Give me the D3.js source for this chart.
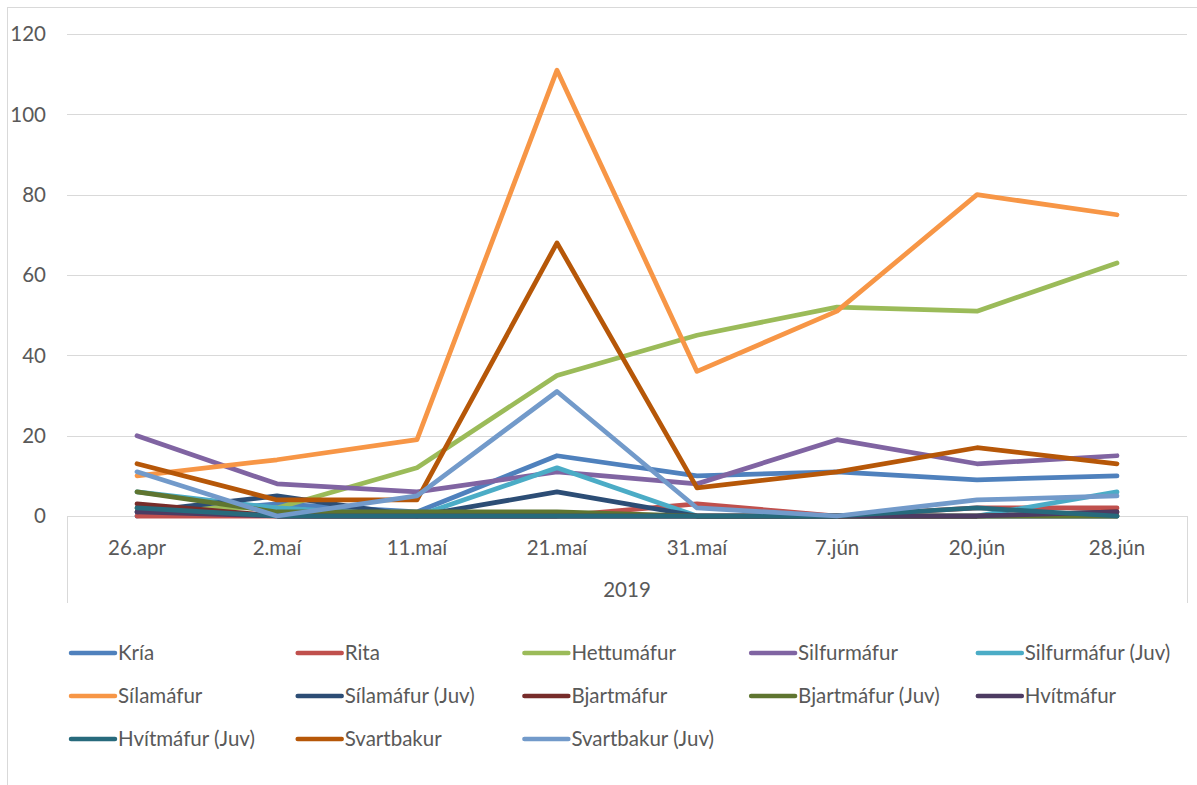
<!DOCTYPE html>
<html><head><meta charset="utf-8">
<script src="https://cdn.jsdelivr.net/npm/d3@7/dist/d3.min.js"></script>
<style>body{margin:0;background:#fff}svg text{font-family:Lato,"Open Sans",sans-serif;fill:#595959}</style>
</head><body><svg id="c" width="1197" height="785"></svg>
<script>
const categories = ["26.apr","2.maí","11.maí","21.maí","31.maí","7.jún","20.jún","28.jún"];
const groupLabel = "2019";
const yTicks = [0,20,40,60,80,100,120];
const seriesNames = ["Kría","Rita","Hettumáfur","Silfurmáfur","Silfurmáfur (Juv)","Sílamáfur","Sílamáfur (Juv)","Bjartmáfur","Bjartmáfur (Juv)","Hvítmáfur","Hvítmáfur (Juv)","Svartbakur","Svartbakur (Juv)"];
const kria        = [0, 3, 1, 15, 10, 11, 9, 10];
const rita        = [0, 0, 0, 0, 3, 0, 2, 2];
const hettumafur  = [2, 2, 12, 35, 45, 52, 51, 63];
const silfurmafur = [20, 8, 6, 11, 8, 19, 13, 15];
const silfurJuv   = [6, 2, 0, 12, 0, 0, 0, 6];
const silamafur   = [10, 14, 19, 111, 36, 51, 80, 75];
const silaJuv     = [1, 5, 0, 6, 0, 0, 0, 0];
const bjartmafur  = [3, 0, 0, 0, 0, 0, 0, 1];
const bjartJuv    = [6, 1, 1, 1, 0, 0, 0, 0];
const hvitmafur   = [1, 0, 0, 0, 0, 0, 0, 1];
const hvitJuv     = [2, 0, 0, 0, 0, 0, 2, 0];
const svartbakur  = [13, 4, 4, 68, 7, 11, 17, 13];
const svartJuv    = [11, 0, 5, 31, 2, 0, 4, 5];
const colors = ["#4F81BD","#C0504D","#9BBB59","#8064A2","#4BACC6","#F79646","#2C4D75","#772C2A","#5F7530","#4D3B62","#276A7C","#B65708","#729ACA"];
const values = [kria,rita,hettumafur,silfurmafur,silfurJuv,silamafur,silaJuv,bjartmafur,bjartJuv,hvitmafur,hvitJuv,svartbakur,svartJuv];

const svg = d3.select("#c");
const L = 67, R = 1187, T = 34, B = 516;
const FS = 20.5;
svg.append("rect").attr("x",7.5).attr("y",7.5).attr("width",1200).attr("height",800)
  .attr("fill","none").attr("stroke","#d9d9d9");

const x = d3.scaleBand().domain(categories).range([L,R]);
const y = d3.scaleLinear().domain([0,120]).range([B,T]);

// gridlines
svg.append("g").selectAll("line").data(yTicks.filter(d=>d>0)).join("line")
  .attr("x1",L).attr("x2",R).attr("y1",d=>Math.round(y(d))+0.5).attr("y2",d=>Math.round(y(d))+0.5)
  .attr("stroke","#d9d9d9").attr("stroke-width",1);
// y labels
svg.append("g").selectAll("text").data(yTicks).join("text")
  .attr("x",46).attr("y",d=>y(d)).attr("dy","0.35em").attr("text-anchor","end")
  .attr("font-size",FS).text(d=>d);

// category axis
const ax = svg.append("g");
ax.append("line").attr("x1",L).attr("x2",R).attr("y1",B+0.5).attr("y2",B+0.5).attr("stroke","#d9d9d9");
[L,R].forEach(px=>ax.append("line").attr("x1",px+0.5).attr("x2",px+0.5).attr("y1",B).attr("y2",603).attr("stroke","#d9d9d9"));
ax.selectAll("text.cat").data(categories).join("text").attr("class","cat")
  .attr("x",d=>x(d)+x.bandwidth()/2).attr("y",548).attr("dy","0.35em").attr("text-anchor","middle").attr("font-size",FS).text(d=>d);
ax.append("text").attr("x",(L+R)/2).attr("y",590).attr("dy","0.35em").attr("text-anchor","middle").attr("font-size",FS).text(groupLabel);

// lines
const line = d3.line().x((d,i)=>x(categories[i])+x.bandwidth()/2).y(d=>y(d));
svg.append("g").selectAll("path").data(values).join("path")
  .attr("d",d=>line(d)).attr("fill","none").attr("stroke",(d,i)=>colors[i])
  .attr("stroke-width",4.75).attr("stroke-linejoin","round").attr("stroke-linecap","round");

// legend
const leg = svg.append("g");
seriesNames.forEach((n,i)=>{
  const col = i%5, row = Math.floor(i/5);
  const lx = 71 + col*226.7, ly = 653 + row*43;
  leg.append("line").attr("x1",lx).attr("x2",lx+44).attr("y1",ly).attr("y2",ly)
    .attr("stroke",colors[i]).attr("stroke-width",4.5).attr("stroke-linecap","round");
  leg.append("text").attr("x",lx+47).attr("y",ly).attr("dy","0.35em").attr("font-size",FS).text(n);
});
</script></body></html>
